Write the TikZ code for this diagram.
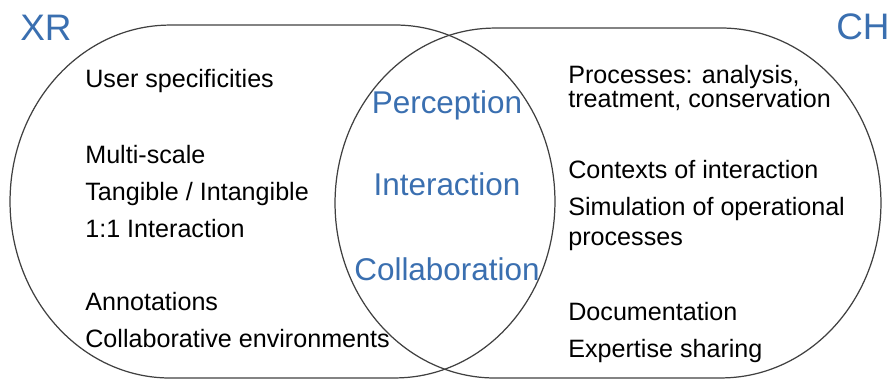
\documentclass[tikz,border=0pt]{standalone}
\usepackage{fontspec}
\setmainfont{Liberation Sans}
\usepackage{tikz}
\definecolor{setblue}{RGB}{58,111,176}
\definecolor{setline}{RGB}{64,64,64}
\tikzstyle{setshape} = [draw=setline, line width=0.7pt]
\tikzstyle{item} = [anchor=base west, inner sep=0pt, font=\fontsize{14.3}{16}\selectfont]
\tikzstyle{shared} = [anchor=base, inner sep=0pt, text=setblue, font=\fontsize{17.9}{20}\selectfont]
\tikzstyle{setname} = [anchor=base west, inner sep=0pt, text=setblue, font=\fontsize{21}{24}\selectfont]

\begin{document}
\begin{tikzpicture}[x=0.02cm, y=0.02cm]

\useasboundingbox (0,0) rectangle (894,380);

\draw [setshape] (170,355) -- (395,355) arc[start angle=90, end angle=-90, x radius=3.2cm, y radius=3.53cm]
  -- (170,2) arc[start angle=270, end angle=90, x radius=3.2cm, y radius=3.53cm] -- cycle;
\draw [setshape] (495,352) -- (721,352) arc[start angle=90, end angle=-90, x radius=3.2cm, y radius=3.5cm]
  -- (495,2) arc[start angle=270, end angle=90, x radius=3.2cm, y radius=3.5cm] -- cycle;

\node (xr) [setname] at (20,340) {XR};
\node (ch) [setname] at (836,341) {CH};

\node (user) [item] at (85,293) {User specificities};
\node (multi) [item] at (85,217) {Multi-scale};
\node (tangible) [item] at (85,180) {Tangible / Intangible};
\node (oneone) [item] at (85,143) {1:1 Interaction};
\node (annot) [item] at (85,70) {Annotations};
\node (collabenv) [item] at (85,33) {Collaborative environments};

\node (perception) [shared] at (447,267) {Perception};
\node (interaction) [shared] at (447,185) {Interaction};
\node (collaboration) [shared] at (447,100) {Collaboration};

\node (proc) [item] at (568,297) {Processes: analysis,};
\node (treat) [item] at (568,273) {treatment, conservation};
\node (contexts) [item] at (568,202) {Contexts of interaction};
\node (simul) [item] at (568,165) {Simulation of operational};
\node (simproc) [item] at (568,135) {processes};
\node (doc) [item] at (568,60) {Documentation};
\node (expert) [item] at (568,23) {Expertise sharing};

\end{tikzpicture}
\end{document}
